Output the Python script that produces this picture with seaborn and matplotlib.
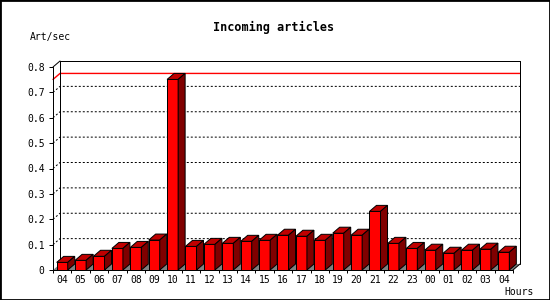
import numpy as np
import pandas as pd
import matplotlib
matplotlib.use("Agg")
import matplotlib.pyplot as plt
from matplotlib.patches import Polygon, Rectangle
import seaborn as sns

# ---- data ----
hours = ["04", "05", "06", "07", "08", "09", "10", "11", "12", "13", "14", "15", "16",
         "17", "18", "19", "20", "21", "22", "23", "00", "01", "02", "03", "04"]
rates = [0.030, 0.038, 0.054, 0.085, 0.089, 0.118, 0.751, 0.093, 0.101, 0.105, 0.113, 0.117,
         0.137, 0.133, 0.117, 0.145, 0.137, 0.231, 0.105, 0.085, 0.078, 0.066, 0.078, 0.082, 0.070]
ytick_vals = [0, 0.1, 0.2, 0.3, 0.4, 0.5, 0.6, 0.7, 0.8]
ytick_labels = ["0", "0.1", "0.2", "0.3", "0.4", "0.5", "0.6", "0.7", "0.8"]
title = "Incoming articles"
ylabel = "Art/sec"
xlabel = "Hours"

sns.set_style("white")
plt.rcParams['font.family'] = ['DejaVu Sans Mono', 'DejaVu Sans']
plt.rcParams['text.color'] = 'black'
plt.rcParams['xtick.color'] = 'black'
plt.rcParams['ytick.color'] = 'black'
plt.rcParams['xtick.labelcolor'] = 'black'
plt.rcParams['ytick.labelcolor'] = 'black'

W, H, DPI = 550, 300, 100
fig = plt.figure(figsize=(W / DPI, H / DPI), dpi=DPI)
fig.patch.set_facecolor("white")
ax = fig.add_axes([53 / W, 30 / H, 460 / W, 203 / H])
ax.set_facecolor("none")

LW = 0.72

df = pd.DataFrame({"pos": np.arange(len(rates)), "rate": rates})
sns.barplot(data=df, x="pos", y="rate", color="#ff0000", saturation=1, width=0.6,
            edgecolor="black", linewidth=LW, ax=ax, zorder=3)

n = len(rates)
ax.set_xlim(-0.5, n - 0.5)
ax.set_ylim(0, 0.8)
for s in ax.spines.values():
    s.set_visible(False)

# depth offset of the 3D effect (7 px right, 6 px up) converted to data units
inv = ax.transData.inverted()
p0 = ax.transData.transform((0, 0))
dxy = inv.transform((p0[0] + 7, p0[1] + 6))
dx, dy = dxy[0], dxy[1]

xl, xr = -0.5, n - 0.5
ytop = 0.8

# floor
ax.add_patch(Polygon([(xl, 0), (xr, 0), (xr + dx, dy), (xl + dx, dy)], closed=True,
                     facecolor="#808080", edgecolor="none", zorder=1, clip_on=False))

# grid lines on back wall (with diagonal on left wall)
for v in ytick_vals[1:-1]:
    ax.plot([xl, xl + dx, xr + dx], [v, v + dy, v + dy], color="black", lw=LW,
            dashes=(2, 2), zorder=1.5, clip_on=False)

# max line
vmax = max(rates)
ax.plot([xl, xl + dx, xr + dx], [vmax, vmax + dy, vmax + dy], color="#ff0000", lw=1.0,
        zorder=1.6, clip_on=False)

# frame lines
frame_kw = dict(color="black", lw=LW, zorder=4, clip_on=False)
ax.plot([xl, xl], [0, ytop], **frame_kw)
ax.plot([xl + dx, xl + dx], [dy, ytop + dy], color="black", lw=LW, zorder=1.7, clip_on=False)
ax.plot([xl, xl + dx], [ytop, ytop + dy], **frame_kw)
ax.plot([xl + dx, xr + dx], [ytop + dy, ytop + dy], **frame_kw)
ax.plot([xr + dx, xr + dx], [dy, ytop + dy], **frame_kw)
ax.plot([xl, xr], [0, 0], **frame_kw)
ax.plot([xr, xr + dx], [0, dy], **frame_kw)

# 3D faces of bars
for p in ax.patches:
    if not hasattr(p, "get_height") or p.get_facecolor()[:3] != (1.0, 0.0, 0.0):
        continue
    x0 = p.get_x()
    x1 = x0 + p.get_width()
    h = p.get_height()
    ax.add_patch(Polygon([(x0, h), (x1, h), (x1 + dx, h + dy), (x0 + dx, h + dy)], closed=True,
                         facecolor="#c00000", edgecolor="black", lw=LW, zorder=3, clip_on=False))
    ax.add_patch(Polygon([(x1, 0), (x1, h), (x1 + dx, h + dy), (x1 + dx, dy)], closed=True,
                         facecolor="#800000", edgecolor="black", lw=LW, zorder=3, clip_on=False))

# ticks
ax.set_xticks(np.arange(n))
ax.set_xticklabels(hours)
ax.set_xticks(np.arange(n + 1) - 0.5, minor=True)
ax.tick_params(axis="x", which="major", length=0, pad=3.5, labelsize=7, colors="black")
ax.tick_params(axis="x", which="minor", length=2.4, width=LW, direction="out", bottom=True,
               color="black")
ax.set_yticks(ytick_vals)
ax.set_yticklabels(ytick_labels)
ax.tick_params(axis="y", which="major", length=3, width=LW, direction="out", left=True,
               pad=3, labelsize=7, colors="black")
ax.set_xlabel("")
ax.set_ylabel("")

# texts
fig.text(274 / W, 1 - 27 / H, title, ha="center", va="center", fontsize=8.5,
         fontweight="heavy", color="black")
fig.text(30 / W, 1 - 37 / H, ylabel, ha="left", va="center", fontsize=7, color="black")
fig.text(534 / W, 1 - 292 / H, xlabel, ha="right", va="center", fontsize=7, color="black")

# image border
fig.add_artist(Rectangle((0, 0), 1, 1, transform=fig.transFigure, fill=False,
                         edgecolor="black", lw=2, clip_on=False))

fig.savefig("out.png", dpi=DPI)
